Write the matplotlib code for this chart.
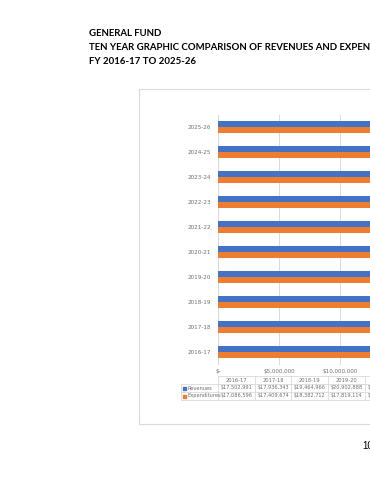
import matplotlib.pyplot as plt
import numpy as np

# fiscal years, oldest first (drawn bottom to top)
years = ['2016-17', '2017-18', '2018-19', '2019-20', '2020-21',
         '2021-22', '2022-23', '2023-24', '2024-25', '2025-26']
revenues = [17502991, 17936343, 19464966, 20902888, 21350000,
            21900000, 22450000, 23000000, 23560000, 24120000]
expenditures = [17086596, 17409674, 18382712, 17819114, 21100000,
                21700000, 22300000, 22900000, 23500000, 24100000]
xticks = [0, 5000000, 10000000, 15000000, 20000000, 25000000, 30000000]

blue = '#4472C4'
orange = '#ED7D31'
grey = '#6f6f6f'

W, H = 370, 480
fig = plt.figure(figsize=(W / 100, H / 100), dpi=100)

def fx(px):
    return px / W

def fy(py):
    return 1 - py / H

# page title
title = ['GENERAL FUND',
         'TEN YEAR GRAPHIC COMPARISON OF REVENUES AND EXPENDITURES',
         'FY 2016-17 TO 2025-26']
for i, t in enumerate(title):
    fig.text(fx(89), fy(34 + 14 * i), t, fontsize=6.9, fontweight='bold',
             family='Lato', va='center', ha='left', color='black')

fig.text(fx(362), fy(446), '10', fontsize=7, family='Liberation Sans',
         va='center', ha='left')

# chart frame (runs off the right edge of the page)
frame = plt.Rectangle((fx(139), fy(424)), fx(400), fy(89) - fy(424),
                      transform=fig.transFigure, fill=False,
                      edgecolor='#d9d9d9', linewidth=0.8)
fig.add_artist(frame)

left, right, top, bottom = 218, 585, 114.5, 364.5
ax = fig.add_axes([fx(left), fy(bottom), fx(right - left), fy(top) - fy(bottom)])

y = np.arange(len(years))
h = 0.24
ax.barh(y + h / 2, revenues, height=h, color=blue, zorder=3)
ax.barh(y - h / 2, expenditures, height=h, color=orange, zorder=3)

ax.set_xlim(0, 30000000)
ax.set_ylim(-0.5, len(years) - 0.5)
ax.set_xticks(xticks)
ax.set_xticklabels(['$-' if v == 0 else '${:,.0f}'.format(v) for v in xticks],
                   fontsize=4.1, color=grey)
ax.set_yticks(y)
ax.set_yticklabels(years, fontsize=4.1, color=grey)
ax.tick_params(length=0, pad=5)
ax.tick_params(axis='x', pad=3)
ax.grid(axis='x', color='#d9d9d9', linewidth=0.7, zorder=0)
for s in ax.spines.values():
    s.set_visible(False)
ax.axvline(0, color='#d9d9d9', linewidth=0.8, zorder=2)

# data table below the plot
ncol = len(years)
cw = (right - left) / ncol
rows = [376, 384, 392, 400]
lc = '#d9d9d9'
for r in rows:
    x0 = left if r == rows[0] else 181
    fig.add_artist(plt.Line2D([fx(x0), fx(right)], [fy(r), fy(r)],
                              transform=fig.transFigure, color=lc, lw=0.6))
for j in range(ncol + 1):
    xx = left + j * cw
    fig.add_artist(plt.Line2D([fx(xx), fx(xx)], [fy(rows[0]), fy(rows[-1])],
                              transform=fig.transFigure, color=lc, lw=0.6))
fig.add_artist(plt.Line2D([fx(181), fx(181)], [fy(rows[1]), fy(rows[-1])],
                          transform=fig.transFigure, color=lc, lw=0.6))

series = [('Revenues', revenues, blue), ('Expenditures', expenditures, orange)]
for j, yr in enumerate(years):
    cx = left + (j + 0.5) * cw
    fig.text(fx(cx), fy(380), yr, fontsize=3.7, color=grey,
             ha='center', va='center')
    for k, (name, vals, c) in enumerate(series):
        fig.text(fx(cx), fy(388 + 8 * k), '${:,.0f}'.format(vals[j]),
                 fontsize=3.6, color=grey, ha='center', va='center')
for k, (name, vals, c) in enumerate(series):
    yy = 388 + 8 * k
    fig.add_artist(plt.Rectangle((fx(183), fy(yy + 1.5)), fx(3), fy(yy - 1.5) - fy(yy + 1.5),
                                 transform=fig.transFigure, color=c))
    fig.text(fx(188), fy(yy), name, fontsize=3.7, color=grey,
             ha='left', va='center')

fig.savefig('out.png', dpi=100)
